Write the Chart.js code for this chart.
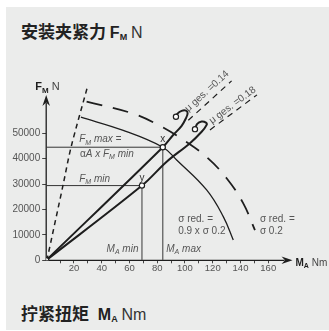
<!DOCTYPE html>
<html>
<head>
<meta charset="utf-8">
<script src="https://cdn.jsdelivr.net/npm/chart.js@4.4.1/dist/chart.umd.min.js"></script>
<style>
  html, body { margin: 0; padding: 0; background: #fff; }
  #wrap { position: relative; width: 329px; height: 331px; overflow: hidden; }
  #panel { position: absolute; left: 6px; top: 7px; width: 323px; height: 323px; background: #ebeceb; }
  canvas { position: absolute; left: 0; top: 0; }
  .ttl { position: absolute; left: 21px; font: bold 17px/17px "Noto Sans CJK SC", sans-serif; color: #222; white-space: nowrap; }
  .ttl .lat { font-family: "Liberation Sans", Arial, sans-serif; font-size: 16px; }
  .ttl sub { font-size: 9px; vertical-align: -2px; }
  .ttl .n { font-weight: normal; color: #333; }
</style>
</head>
<body>
<div id="wrap">
  <div id="panel"></div>
  <div class="ttl" style="top:22px">安装夹紧力 <span class="lat">F<sub>M</sub></span> <span class="lat n">N</span></div>
  <div class="ttl" style="top:304px">拧紧扭矩 <span class="lat" style="margin-left:5px">M<sub>A</sub></span> <span class="lat n">Nm</span></div>
  <canvas id="chart" width="329" height="331"></canvas>
</div>
<script>
// tick labels
const xTickLabels = [20, 40, 60, 80, 100, 120, 140, 160];
const yTickLabels = [0, 10000, 20000, 30000, 40000, 50000];

// working points x (max) and y (min)
const maMax = 84, fMax = 44500;
const maMin = 69, fMin = 29400;

// tightening lines with the hook at their ends
const mu14X = [0, 84, 91.5, 97.6, 100.7, 101.9, 100.7, 97.6, 94.4, 93.5];
const mu14Y = [0, 44500, 49300, 52900, 55900, 57900, 58900, 58800, 57600, 56500];
const mu18X = [0, 69, 86.8, 103.6, 112, 115.6, 115.1, 112, 108.8, 107.2];
const mu18Y = [0, 29400, 38800, 46100, 50600, 53300, 54200, 54600, 53700, 51600];

// dashed guides beside the hooks
const mu14DashX = [102.4, 133.6];
const mu14DashY = [55100, 70600];
const mu18DashX = [118, 151.9];
const mu18DashY = [51300, 65100];

// sigma red. curves
const sig09X = [25, 55, 84, 94, 115.6, 127.6, 134.8];
const sig09Y = [56300, 51200, 44500, 39500, 27700, 17200, 8000];
const sig02X = [29.1, 61.6, 80.7, 98.7, 115.6, 130, 142, 150.4];
const sig02Y = [62400, 57900, 53300, 47400, 40600, 32300, 22400, 11900];

// steep dashed line
const steepX = [0.5, 12.3, 17.9, 29.9];
const steepY = [0, 30000, 44500, 68600];

const FAM = '"Liberation Sans", Arial, sans-serif';
const INK = '#1e1e1e';
const GREY = '#555';

function pairs(xs, ys) {
  return xs.map((v, i) => ({ x: v, y: ys[i] }));
}

function line(data, width, dash, extra) {
  return Object.assign({
    data: data,
    showLine: true,
    pointRadius: 0,
    borderColor: INK,
    borderWidth: width,
    borderDash: dash || [],
    fill: false,
    tension: 0
  }, extra || {});
}

// draw a run of text parts: [text, style, colour]; style may hold i (italic), b (bold), s (subscript)
function rich(ctx, px, py, parts, size, align) {
  const fontOf = st => (st.includes('i') ? 'italic ' : '') + (st.includes('b') ? 'bold ' : '') +
    (st.includes('s') ? Math.round(size * 0.72) : size) + 'px ' + FAM;
  let w = 0;
  parts.forEach(p => { ctx.font = fontOf(p[1]); w += ctx.measureText(p[0]).width; });
  let cx = align === 'right' ? px - w : align === 'center' ? px - w / 2 : px;
  ctx.textAlign = 'left';
  ctx.textBaseline = 'alphabetic';
  parts.forEach(p => {
    ctx.font = fontOf(p[1]);
    ctx.fillStyle = p[2] || GREY;
    ctx.fillText(p[0], cx, py + (p[1].includes('s') ? size * 0.22 : 0));
    cx += ctx.measureText(p[0]).width;
  });
}

function arrowHead(ctx, tx, ty, ang) {
  ctx.save();
  ctx.translate(tx, ty);
  ctx.rotate(ang);
  ctx.beginPath();
  ctx.moveTo(0, 0);
  ctx.lineTo(-11, -3.8);
  ctx.lineTo(-7.5, 0);
  ctx.lineTo(-11, 3.8);
  ctx.closePath();
  ctx.fill();
  ctx.restore();
}

const decor = {
  id: 'decor',
  beforeDatasetsDraw(chart) {
    const { ctx, scales: { x, y } } = chart;
    const ox = x.getPixelForValue(0), oy = y.getPixelForValue(0);
    const xe = x.getPixelForValue(177.5), ye = y.getPixelForValue(65000);
    ctx.save();
    ctx.strokeStyle = INK;
    ctx.fillStyle = INK;
    ctx.lineWidth = 1.3;
    ctx.beginPath();
    ctx.moveTo(ox, oy); ctx.lineTo(xe - 8, oy);
    ctx.moveTo(ox, oy); ctx.lineTo(ox, ye + 8);
    ctx.stroke();
    arrowHead(ctx, xe, oy, 0);
    arrowHead(ctx, ox, ye, -Math.PI / 2);
    ctx.restore();
  },
  afterDraw(chart) {
    const { ctx, scales: { x, y } } = chart;
    const P = (a, b) => [x.getPixelForValue(a), y.getPixelForValue(b)];
    ctx.save();
    let p;
    // axis names
    p = P(0, 0);
    rich(ctx, p[0] - 11, y.getPixelForValue(65000) - 5, [['F', 'b', INK], ['M', 'bs', INK], [' N', '', '#444']], 11, 'left');
    rich(ctx, x.getPixelForValue(177.5) + 3, p[1] + 5.5, [['M', 'b', INK], ['A', 'bs', INK], [' Nm', '', '#444']], 10, 'left');

    p = P(23.8, 46400);
    rich(ctx, p[0], p[1], [['F', 'i'], ['M', 'is'], [' max =', 'i']], 10, 'left');
    p = P(24.3, 40700);
    rich(ctx, p[0], p[1], [['\u03b1', ''], ['A', 'i'], [' x ', 'i'], ['F', 'i'], ['M', 'is'], [' min', 'i']], 10, 'left');
    p = P(23.8, 31000);
    rich(ctx, p[0], p[1], [['F', 'i'], ['M', 'is'], [' min', 'i']], 10, 'left');

    p = P(maMax, fMax);
    rich(ctx, p[0], p[1] - 5.5, [['x', '', '#333']], 10, 'center');
    p = P(maMin, fMin);
    rich(ctx, p[0], p[1] - 4.5, [['y', '', '#333']], 10, 'center');

    p = P(maMin, 3300);
    rich(ctx, p[0] - 3.5, p[1], [['M', 'i'], ['A', 'is'], [' min', 'i']], 10, 'right');
    p = P(maMax, 3300);
    rich(ctx, p[0] + 3.5, p[1], [['M', 'i'], ['A', 'is'], [' max', 'i']], 10, 'left');

    p = P(95.1, 15100);
    rich(ctx, p[0], p[1], [['\u03c3 red. =', '']], 10, 'left');
    p = P(95.1, 10400);
    rich(ctx, p[0], p[1], [['0.9 x \u03c3 0.2', '']], 10, 'left');
    p = P(154, 15100);
    rich(ctx, p[0], p[1], [['\u03c3 red. =', '']], 10, 'left');
    p = P(154, 10400);
    rich(ctx, p[0], p[1], [['\u03c3 0.2', '']], 10, 'left');

    // friction labels along their dashed guides
    const slanted = (dx, dy, ax, ay, txt) => {
      const a = P(dx[0], dy[0]), b = P(dx[1], dy[1]);
      const ang = Math.atan2(b[1] - a[1], b[0] - a[0]);
      const q = P(ax, ay);
      ctx.save();
      ctx.translate(q[0], q[1]);
      ctx.rotate(ang);
      rich(ctx, 0, 0, [[txt, '']], 10, 'left');
      ctx.restore();
    };
    slanted(mu14DashX, mu14DashY, 102.4, 58400, '\u03bc ges. =0.14');
    slanted(mu18DashX, mu18DashY, 119.4, 53600, '\u03bc ges. =0.18');
    ctx.restore();
  }
};

const markers = [
  { x: maMax, y: fMax },
  { x: maMin, y: fMin },
  { x: mu14X[mu14X.length - 1], y: mu14Y[mu14Y.length - 1] },
  { x: mu18X[mu18X.length - 1], y: mu18Y[mu18Y.length - 1] },
  { x: 0, y: 0 }
];

new Chart(document.getElementById('chart'), {
  type: 'scatter',
  data: {
    datasets: [
      {
        data: markers,
        showLine: false,
        pointRadius: 2.6,
        pointBackgroundColor: '#fff',
        pointBorderColor: INK,
        pointBorderWidth: 1.2
      },
      line(pairs(mu14X, mu14Y), 2, null, { tension: 0.35 }),
      line(pairs(mu18X, mu18Y), 2, null, { tension: 0.35 }),
      line(pairs(sig09X, sig09Y), 1.3, null, { tension: 0.4 }),
      line(pairs(sig02X, sig02Y), 1.8, [16, 11], { tension: 0.4 }),
      line(pairs(steepX, steepY), 1.5, [5, 4], { tension: 0.3 }),
      line(pairs(mu14DashX, mu14DashY), 1.2, [6, 5]),
      line(pairs(mu18DashX, mu18DashY), 1.2, [6, 5]),
      line([{ x: 0, y: fMax }, { x: maMax, y: fMax }], 1, null, { borderColor: '#333' }),
      line([{ x: 0, y: fMin }, { x: maMin, y: fMin }], 1, null, { borderColor: '#333' }),
      line([{ x: maMax, y: 0 }, { x: maMax, y: fMax }], 1.2, null, { borderColor: '#555' }),
      line([{ x: maMin, y: 0 }, { x: maMin, y: fMin }], 1.2, null, { borderColor: '#555' })
    ]
  },
  options: {
    responsive: false,
    animation: false,
    devicePixelRatio: 1,
    layout: { padding: { top: 57, right: 33, left: 0, bottom: 0 } },
    plugins: { legend: { display: false }, tooltip: { enabled: false } },
    scales: {
      x: {
        type: 'linear',
        min: 0,
        max: 180,
        afterFit: s => { s.height = 70.7; },
        afterBuildTicks: s => { s.ticks = []; for (let v = 10; v <= 160; v += 10) s.ticks.push({ value: v }); },
        border: { display: false },
        grid: { drawOnChartArea: false, drawTicks: true, tickLength: 3, color: '#444', lineWidth: 1 },
        ticks: {
          autoSkip: false,
          maxRotation: 0,
          padding: -1,
          color: GREY,
          font: { family: FAM, size: 9.5 },
          callback: v => xTickLabels.includes(v) ? String(v) : ''
        }
      },
      y: {
        type: 'linear',
        min: 0,
        max: 80000,
        afterFit: s => { s.width = 46.2; },
        afterBuildTicks: s => { s.ticks = yTickLabels.map(v => ({ value: v })); },
        border: { display: false },
        grid: { drawOnChartArea: false, drawTicks: true, tickLength: 4, color: '#444', lineWidth: 1 },
        ticks: {
          padding: 2,
          color: GREY,
          font: { family: FAM, size: 10 },
          callback: v => String(v)
        }
      }
    }
  },
  plugins: [decor]
});
</script>
</body>
</html>
